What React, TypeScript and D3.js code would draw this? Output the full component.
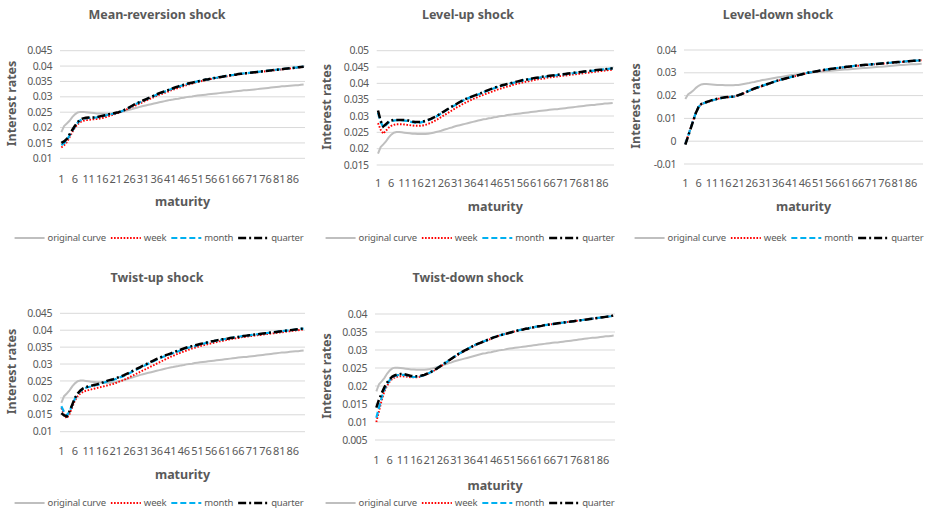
import React, { useEffect, useRef } from 'react';
import * as d3 from 'd3';

// maturities 1..90, labels every 5th
const maturities: number[] = d3.range(1, 91);

const seriesNames = ['original curve', 'week', 'month', 'quarter'];

const originalCurve = [
  0.0185, 0.0205, 0.0213, 0.0222, 0.0234, 0.0243, 0.0249, 0.0251, 0.0251, 0.0250,
  0.0249, 0.0248, 0.0247, 0.0246, 0.0246, 0.0245, 0.0245, 0.0245, 0.0245, 0.0246,
  0.0247, 0.0249, 0.0251, 0.0253, 0.0255, 0.0258, 0.0260, 0.0263, 0.0265, 0.0268,
  0.0270, 0.0272, 0.0274, 0.0276, 0.0278, 0.0280, 0.0282, 0.0284, 0.0286, 0.0288,
  0.0290, 0.0291, 0.0293, 0.0294, 0.0296, 0.0297, 0.0299, 0.0300, 0.0301, 0.0303,
  0.0304, 0.0305, 0.0306, 0.0307, 0.0308, 0.0309, 0.0310, 0.0311, 0.0312, 0.0313,
  0.0314, 0.0315, 0.0316, 0.0317, 0.0318, 0.0319, 0.0320, 0.0321, 0.0321, 0.0322,
  0.0323, 0.0324, 0.0325, 0.0326, 0.0327, 0.0328, 0.0329, 0.0330, 0.0331, 0.0332,
  0.0333, 0.0334, 0.0334, 0.0335, 0.0336, 0.0337, 0.0338, 0.0338, 0.0339, 0.0340,
];

// Mean-reversion shock
const mrWeek = [
  0.0135, 0.0142, 0.0152, 0.0168, 0.0185, 0.0200, 0.0211, 0.0218, 0.0222, 0.0224,
  0.0225, 0.0226, 0.0227, 0.0228, 0.0229, 0.0231, 0.0233, 0.0236, 0.0239, 0.0242,
  0.0245, 0.0248, 0.0251, 0.0255, 0.0259, 0.0263, 0.0267, 0.0271, 0.0275, 0.0279,
  0.0283, 0.0287, 0.0291, 0.0295, 0.0299, 0.0303, 0.0307, 0.0310, 0.0313, 0.0316,
  0.0320, 0.0323, 0.0326, 0.0329, 0.0332, 0.0335, 0.0338, 0.0341, 0.0343, 0.0346,
  0.0348, 0.0350, 0.0352, 0.0354, 0.0356, 0.0358, 0.0360, 0.0361, 0.0363, 0.0364,
  0.0366, 0.0367, 0.0369, 0.0370, 0.0371, 0.0373, 0.0374, 0.0375, 0.0376, 0.0377,
  0.0378, 0.0379, 0.0380, 0.0381, 0.0382, 0.0383, 0.0384, 0.0385, 0.0386, 0.0387,
  0.0388, 0.0389, 0.0390, 0.0391, 0.0392, 0.0393, 0.0394, 0.0395, 0.0396, 0.0398,
];
const mrMonth = [
  0.0143, 0.0149, 0.0158, 0.0174, 0.0189, 0.0204, 0.0216, 0.0224, 0.0228, 0.0230,
  0.0231, 0.0232, 0.0232, 0.0233, 0.0235, 0.0237, 0.0239, 0.0241, 0.0243, 0.0245,
  0.0247, 0.0249, 0.0252, 0.0256, 0.0260, 0.0265, 0.0270, 0.0275, 0.0279, 0.0283,
  0.0287, 0.0291, 0.0295, 0.0299, 0.0303, 0.0307, 0.0311, 0.0314, 0.0317, 0.0320,
  0.0324, 0.0327, 0.0330, 0.0333, 0.0336, 0.0339, 0.0341, 0.0344, 0.0346, 0.0348,
  0.0350, 0.0352, 0.0354, 0.0356, 0.0357, 0.0359, 0.0361, 0.0362, 0.0364, 0.0365,
  0.0367, 0.0368, 0.0370, 0.0371, 0.0372, 0.0374, 0.0375, 0.0376, 0.0377, 0.0378,
  0.0379, 0.0380, 0.0381, 0.0382, 0.0383, 0.0384, 0.0385, 0.0386, 0.0387, 0.0388,
  0.0389, 0.0390, 0.0391, 0.0392, 0.0393, 0.0394, 0.0395, 0.0396, 0.0397, 0.0398,
];
const mrQuarter = [
  0.0150, 0.0155, 0.0163, 0.0178, 0.0192, 0.0206, 0.0218, 0.0226, 0.0230, 0.0232,
  0.0233, 0.0233, 0.0233, 0.0234, 0.0236, 0.0238, 0.0240, 0.0242, 0.0244, 0.0246,
  0.0248, 0.0250, 0.0253, 0.0257, 0.0261, 0.0266, 0.0271, 0.0276, 0.0280, 0.0284,
  0.0288, 0.0292, 0.0296, 0.0300, 0.0304, 0.0308, 0.0312, 0.0315, 0.0318, 0.0321,
  0.0325, 0.0328, 0.0331, 0.0334, 0.0337, 0.0339, 0.0342, 0.0344, 0.0346, 0.0348,
  0.0350, 0.0352, 0.0354, 0.0356, 0.0357, 0.0359, 0.0361, 0.0362, 0.0364, 0.0365,
  0.0367, 0.0368, 0.0370, 0.0371, 0.0372, 0.0374, 0.0375, 0.0376, 0.0377, 0.0378,
  0.0379, 0.0380, 0.0381, 0.0382, 0.0383, 0.0384, 0.0385, 0.0386, 0.0387, 0.0388,
  0.0389, 0.0390, 0.0391, 0.0392, 0.0393, 0.0394, 0.0395, 0.0396, 0.0397, 0.0398,
];

// Level-up shock
const luWeek = [
  0.0278, 0.0258, 0.0246, 0.0255, 0.0264, 0.0270, 0.0273, 0.0275, 0.0275, 0.0275,
  0.0274, 0.0273, 0.0272, 0.0271, 0.0270, 0.0270, 0.0270, 0.0271, 0.0273, 0.0276,
  0.0279, 0.0283, 0.0287, 0.0292, 0.0297, 0.0302, 0.0307, 0.0312, 0.0317, 0.0322,
  0.0327, 0.0331, 0.0336, 0.0340, 0.0344, 0.0348, 0.0352, 0.0355, 0.0359, 0.0362,
  0.0365, 0.0368, 0.0371, 0.0374, 0.0377, 0.0380, 0.0383, 0.0385, 0.0388, 0.0390,
  0.0392, 0.0395, 0.0397, 0.0399, 0.0401, 0.0403, 0.0405, 0.0406, 0.0408, 0.0410,
  0.0411, 0.0413, 0.0414, 0.0415, 0.0417, 0.0418, 0.0419, 0.0420, 0.0421, 0.0422,
  0.0423, 0.0424, 0.0425, 0.0426, 0.0427, 0.0428, 0.0429, 0.0430, 0.0431, 0.0432,
  0.0433, 0.0434, 0.0435, 0.0436, 0.0437, 0.0438, 0.0439, 0.0440, 0.0441, 0.0442,
];
const luMonth = [
  0.0310, 0.0282, 0.0265, 0.0272, 0.0280, 0.0284, 0.0286, 0.0287, 0.0287, 0.0287,
  0.0286, 0.0285, 0.0283, 0.0281, 0.0280, 0.0280, 0.0280, 0.0282, 0.0284, 0.0287,
  0.0290, 0.0294, 0.0298, 0.0303, 0.0308, 0.0313, 0.0318, 0.0323, 0.0328, 0.0332,
  0.0337, 0.0342, 0.0346, 0.0350, 0.0354, 0.0357, 0.0360, 0.0363, 0.0366, 0.0369,
  0.0373, 0.0376, 0.0379, 0.0382, 0.0385, 0.0388, 0.0390, 0.0393, 0.0395, 0.0397,
  0.0399, 0.0401, 0.0403, 0.0405, 0.0407, 0.0409, 0.0410, 0.0412, 0.0413, 0.0415,
  0.0416, 0.0417, 0.0419, 0.0420, 0.0421, 0.0422, 0.0423, 0.0424, 0.0425, 0.0426,
  0.0427, 0.0428, 0.0429, 0.0430, 0.0431, 0.0432, 0.0433, 0.0434, 0.0435, 0.0436,
  0.0437, 0.0438, 0.0439, 0.0440, 0.0441, 0.0442, 0.0443, 0.0444, 0.0445, 0.0446,
];
const luQuarter = [
  0.0317, 0.0285, 0.0268, 0.0275, 0.0282, 0.0286, 0.0288, 0.0288, 0.0288, 0.0288,
  0.0288, 0.0287, 0.0285, 0.0283, 0.0282, 0.0282, 0.0282, 0.0283, 0.0285, 0.0288,
  0.0291, 0.0295, 0.0299, 0.0304, 0.0309, 0.0314, 0.0319, 0.0324, 0.0329, 0.0334,
  0.0338, 0.0343, 0.0347, 0.0351, 0.0355, 0.0358, 0.0361, 0.0364, 0.0367, 0.0370,
  0.0374, 0.0377, 0.0380, 0.0383, 0.0386, 0.0389, 0.0391, 0.0394, 0.0396, 0.0398,
  0.0400, 0.0402, 0.0404, 0.0406, 0.0408, 0.0410, 0.0411, 0.0413, 0.0414, 0.0416,
  0.0417, 0.0418, 0.0420, 0.0421, 0.0422, 0.0423, 0.0424, 0.0425, 0.0426, 0.0427,
  0.0428, 0.0429, 0.0430, 0.0431, 0.0432, 0.0433, 0.0434, 0.0435, 0.0436, 0.0437,
  0.0438, 0.0439, 0.0440, 0.0441, 0.0442, 0.0442, 0.0443, 0.0444, 0.0445, 0.0446,
];

// Level-down shock
const ldWeek = [
  -0.0012, 0.0023, 0.0058, 0.0093, 0.0127, 0.0151, 0.0162, 0.0167, 0.0171, 0.0174,
  0.0178, 0.0182, 0.0185, 0.0188, 0.0190, 0.0192, 0.0193, 0.0194, 0.0195, 0.0197,
  0.0201, 0.0205, 0.0210, 0.0215, 0.0220, 0.0225, 0.0230, 0.0234, 0.0238, 0.0242,
  0.0246, 0.0250, 0.0254, 0.0258, 0.0262, 0.0266, 0.0269, 0.0272, 0.0275, 0.0278,
  0.0281, 0.0284, 0.0287, 0.0290, 0.0293, 0.0296, 0.0299, 0.0301, 0.0303, 0.0305,
  0.0307, 0.0309, 0.0311, 0.0313, 0.0315, 0.0317, 0.0318, 0.0320, 0.0321, 0.0323,
  0.0324, 0.0326, 0.0327, 0.0328, 0.0330, 0.0331, 0.0332, 0.0333, 0.0334, 0.0335,
  0.0336, 0.0337, 0.0338, 0.0339, 0.0340, 0.0341, 0.0342, 0.0343, 0.0344, 0.0345,
  0.0346, 0.0347, 0.0348, 0.0349, 0.0350, 0.0351, 0.0352, 0.0353, 0.0354, 0.0355,
];
const ldMonth = [
  -0.0013, 0.0022, 0.0057, 0.0092, 0.0126, 0.0150, 0.0162, 0.0167, 0.0171, 0.0175,
  0.0179, 0.0182, 0.0185, 0.0188, 0.0190, 0.0192, 0.0193, 0.0194, 0.0195, 0.0197,
  0.0201, 0.0206, 0.0211, 0.0216, 0.0221, 0.0226, 0.0231, 0.0235, 0.0239, 0.0243,
  0.0247, 0.0251, 0.0255, 0.0259, 0.0263, 0.0267, 0.0270, 0.0273, 0.0276, 0.0279,
  0.0282, 0.0285, 0.0288, 0.0291, 0.0294, 0.0297, 0.0300, 0.0302, 0.0304, 0.0306,
  0.0308, 0.0310, 0.0312, 0.0314, 0.0316, 0.0318, 0.0319, 0.0321, 0.0322, 0.0324,
  0.0325, 0.0327, 0.0328, 0.0329, 0.0331, 0.0332, 0.0333, 0.0334, 0.0335, 0.0336,
  0.0337, 0.0338, 0.0339, 0.0340, 0.0341, 0.0342, 0.0343, 0.0344, 0.0345, 0.0346,
  0.0347, 0.0348, 0.0349, 0.0350, 0.0351, 0.0352, 0.0353, 0.0353, 0.0354, 0.0355,
];
const ldQuarter = [
  -0.0015, 0.0020, 0.0055, 0.0090, 0.0125, 0.0150, 0.0163, 0.0168, 0.0172, 0.0176,
  0.0180, 0.0183, 0.0186, 0.0189, 0.0191, 0.0193, 0.0194, 0.0195, 0.0196, 0.0198,
  0.0202, 0.0206, 0.0211, 0.0216, 0.0221, 0.0226, 0.0231, 0.0235, 0.0239, 0.0243,
  0.0247, 0.0251, 0.0255, 0.0259, 0.0263, 0.0267, 0.0270, 0.0273, 0.0276, 0.0279,
  0.0282, 0.0285, 0.0288, 0.0291, 0.0294, 0.0297, 0.0300, 0.0302, 0.0304, 0.0306,
  0.0308, 0.0310, 0.0312, 0.0314, 0.0316, 0.0318, 0.0319, 0.0321, 0.0322, 0.0324,
  0.0325, 0.0327, 0.0328, 0.0329, 0.0331, 0.0332, 0.0333, 0.0334, 0.0335, 0.0336,
  0.0337, 0.0338, 0.0339, 0.0340, 0.0341, 0.0342, 0.0343, 0.0344, 0.0345, 0.0346,
  0.0347, 0.0348, 0.0349, 0.0350, 0.0351, 0.0352, 0.0353, 0.0353, 0.0354, 0.0355,
];

// Twist-up shock
const tuWeek = [
  0.0170, 0.0150, 0.0140, 0.0152, 0.0172, 0.0192, 0.0205, 0.0213, 0.0218, 0.0221,
  0.0223, 0.0225, 0.0227, 0.0229, 0.0231, 0.0233, 0.0235, 0.0237, 0.0239, 0.0241,
  0.0244, 0.0247, 0.0250, 0.0253, 0.0257, 0.0261, 0.0265, 0.0269, 0.0273, 0.0277,
  0.0281, 0.0285, 0.0289, 0.0293, 0.0297, 0.0301, 0.0305, 0.0309, 0.0313, 0.0317,
  0.0321, 0.0324, 0.0328, 0.0331, 0.0334, 0.0337, 0.0340, 0.0343, 0.0346, 0.0348,
  0.0351, 0.0353, 0.0355, 0.0357, 0.0359, 0.0361, 0.0363, 0.0365, 0.0367, 0.0368,
  0.0370, 0.0372, 0.0373, 0.0375, 0.0376, 0.0377, 0.0379, 0.0380, 0.0381, 0.0382,
  0.0383, 0.0384, 0.0385, 0.0386, 0.0387, 0.0388, 0.0389, 0.0390, 0.0391, 0.0392,
  0.0393, 0.0394, 0.0395, 0.0396, 0.0397, 0.0398, 0.0399, 0.0400, 0.0401, 0.0402,
];
const tuMonth = [
  0.0175, 0.0158, 0.0147, 0.0160, 0.0178, 0.0198, 0.0211, 0.0220, 0.0226, 0.0230,
  0.0232, 0.0234, 0.0236, 0.0238, 0.0240, 0.0243, 0.0246, 0.0249, 0.0251, 0.0253,
  0.0256, 0.0259, 0.0262, 0.0265, 0.0269, 0.0273, 0.0277, 0.0281, 0.0285, 0.0289,
  0.0293, 0.0297, 0.0301, 0.0305, 0.0309, 0.0313, 0.0316, 0.0320, 0.0323, 0.0326,
  0.0329, 0.0332, 0.0335, 0.0338, 0.0341, 0.0344, 0.0347, 0.0349, 0.0351, 0.0353,
  0.0356, 0.0358, 0.0360, 0.0362, 0.0364, 0.0366, 0.0368, 0.0369, 0.0371, 0.0372,
  0.0374, 0.0375, 0.0377, 0.0378, 0.0379, 0.0380, 0.0382, 0.0383, 0.0384, 0.0385,
  0.0386, 0.0387, 0.0388, 0.0389, 0.0390, 0.0391, 0.0392, 0.0393, 0.0394, 0.0395,
  0.0396, 0.0397, 0.0398, 0.0399, 0.0400, 0.0401, 0.0402, 0.0403, 0.0404, 0.0405,
];
const tuQuarter = [
  0.0155, 0.0148, 0.0145, 0.0160, 0.0180, 0.0200, 0.0213, 0.0222, 0.0228, 0.0232,
  0.0234, 0.0236, 0.0238, 0.0240, 0.0242, 0.0245, 0.0248, 0.0251, 0.0253, 0.0255,
  0.0258, 0.0261, 0.0264, 0.0267, 0.0271, 0.0275, 0.0279, 0.0283, 0.0287, 0.0291,
  0.0295, 0.0299, 0.0303, 0.0307, 0.0311, 0.0315, 0.0318, 0.0322, 0.0325, 0.0328,
  0.0331, 0.0334, 0.0337, 0.0340, 0.0343, 0.0346, 0.0349, 0.0351, 0.0353, 0.0355,
  0.0357, 0.0359, 0.0361, 0.0363, 0.0365, 0.0367, 0.0368, 0.0370, 0.0371, 0.0373,
  0.0374, 0.0375, 0.0377, 0.0378, 0.0379, 0.0380, 0.0382, 0.0383, 0.0384, 0.0385,
  0.0386, 0.0387, 0.0388, 0.0389, 0.0390, 0.0391, 0.0392, 0.0393, 0.0394, 0.0395,
  0.0396, 0.0397, 0.0398, 0.0399, 0.0400, 0.0401, 0.0402, 0.0403, 0.0404, 0.0405,
];

// Twist-down shock
const tdWeek = [
  0.0100, 0.0130, 0.0160, 0.0185, 0.0200, 0.0212, 0.0220, 0.0224, 0.0226, 0.0227,
  0.0227, 0.0226, 0.0225, 0.0224, 0.0224, 0.0224, 0.0225, 0.0227, 0.0230, 0.0233,
  0.0236, 0.0240, 0.0244, 0.0249, 0.0254, 0.0259, 0.0264, 0.0269, 0.0274, 0.0279,
  0.0284, 0.0289, 0.0293, 0.0297, 0.0301, 0.0305, 0.0309, 0.0313, 0.0316, 0.0319,
  0.0322, 0.0325, 0.0328, 0.0331, 0.0334, 0.0337, 0.0340, 0.0342, 0.0344, 0.0346,
  0.0348, 0.0350, 0.0352, 0.0354, 0.0356, 0.0357, 0.0359, 0.0360, 0.0362, 0.0363,
  0.0365, 0.0366, 0.0367, 0.0369, 0.0370, 0.0371, 0.0372, 0.0373, 0.0374, 0.0375,
  0.0376, 0.0377, 0.0378, 0.0379, 0.0380, 0.0381, 0.0382, 0.0383, 0.0384, 0.0385,
  0.0386, 0.0387, 0.0388, 0.0389, 0.0390, 0.0391, 0.0392, 0.0393, 0.0394, 0.0396,
];
const tdMonth = [
  0.0112, 0.0140, 0.0168, 0.0190, 0.0205, 0.0216, 0.0223, 0.0228, 0.0230, 0.0231,
  0.0231, 0.0230, 0.0228, 0.0226, 0.0225, 0.0225, 0.0226, 0.0228, 0.0230, 0.0233,
  0.0237, 0.0241, 0.0245, 0.0250, 0.0255, 0.0260, 0.0265, 0.0270, 0.0275, 0.0280,
  0.0285, 0.0290, 0.0294, 0.0298, 0.0302, 0.0306, 0.0310, 0.0314, 0.0317, 0.0320,
  0.0323, 0.0326, 0.0329, 0.0332, 0.0335, 0.0337, 0.0340, 0.0342, 0.0344, 0.0346,
  0.0348, 0.0350, 0.0352, 0.0354, 0.0356, 0.0357, 0.0359, 0.0360, 0.0362, 0.0363,
  0.0365, 0.0366, 0.0367, 0.0369, 0.0370, 0.0371, 0.0372, 0.0373, 0.0374, 0.0375,
  0.0376, 0.0377, 0.0378, 0.0379, 0.0380, 0.0381, 0.0382, 0.0383, 0.0384, 0.0385,
  0.0386, 0.0387, 0.0388, 0.0389, 0.0390, 0.0391, 0.0392, 0.0393, 0.0394, 0.0396,
];
const tdQuarter = [
  0.0140, 0.0162, 0.0180, 0.0196, 0.0209, 0.0219, 0.0226, 0.0230, 0.0232, 0.0233,
  0.0233, 0.0232, 0.0230, 0.0228, 0.0227, 0.0227, 0.0228, 0.0229, 0.0231, 0.0234,
  0.0237, 0.0241, 0.0245, 0.0250, 0.0255, 0.0260, 0.0265, 0.0270, 0.0275, 0.0280,
  0.0285, 0.0290, 0.0294, 0.0298, 0.0302, 0.0306, 0.0310, 0.0314, 0.0317, 0.0320,
  0.0323, 0.0326, 0.0329, 0.0332, 0.0335, 0.0337, 0.0340, 0.0342, 0.0344, 0.0346,
  0.0348, 0.0350, 0.0352, 0.0354, 0.0356, 0.0357, 0.0359, 0.0360, 0.0362, 0.0363,
  0.0365, 0.0366, 0.0367, 0.0369, 0.0370, 0.0371, 0.0372, 0.0373, 0.0374, 0.0375,
  0.0376, 0.0377, 0.0378, 0.0379, 0.0380, 0.0381, 0.0382, 0.0383, 0.0384, 0.0385,
  0.0386, 0.0387, 0.0388, 0.0389, 0.0390, 0.0391, 0.0392, 0.0393, 0.0394, 0.0397,
];

const mrTicks = [0.01, 0.015, 0.02, 0.025, 0.03, 0.035, 0.04, 0.045];
const luTicks = [0.015, 0.02, 0.025, 0.03, 0.035, 0.04, 0.045, 0.05];
const ldTicks = [-0.01, 0, 0.01, 0.02, 0.03, 0.04];
const tuTicks = [0.01, 0.015, 0.02, 0.025, 0.03, 0.035, 0.04, 0.045];
const tdTicks = [0.005, 0.01, 0.015, 0.02, 0.025, 0.03, 0.035, 0.04];

const panels = [
  { title: 'Mean-reversion shock', week: mrWeek, month: mrMonth, quarter: mrQuarter, ticks: mrTicks,
    x0: 60, x1: 305, yTop: 50.7, yBot: 158.3, titleX: 157, titleY: 15, yLabX: 12, xLabY: 179, matY: 202, legY: 238, legCx: 159 },
  { title: 'Level-up shock', week: luWeek, month: luMonth, quarter: luQuarter, ticks: luTicks,
    x0: 376.7, x1: 614, yTop: 50.7, yBot: 165, titleX: 468, titleY: 15, yLabX: 327, xLabY: 183, matY: 207, legY: 238, legCx: 470 },
  { title: 'Level-down shock', week: ldWeek, month: ldMonth, quarter: ldQuarter, ticks: ldTicks,
    x0: 684, x1: 923, yTop: 50, yBot: 164, titleX: 778, titleY: 15, yLabX: 636, xLabY: 183, matY: 207, legY: 238, legCx: 779 },
  { title: 'Twist-up shock', week: tuWeek, month: tuMonth, quarter: tuQuarter, ticks: tuTicks,
    x0: 60, x1: 305, yTop: 313.3, yBot: 431.7, titleX: 157, titleY: 278, yLabX: 12, xLabY: 451, matY: 475, legY: 503, legCx: 159 },
  { title: 'Twist-down shock', week: tdWeek, month: tdMonth, quarter: tdQuarter, ticks: tdTicks,
    x0: 375, x1: 615, yTop: 314, yBot: 440, titleX: 468, titleY: 278, yLabX: 327, xLabY: 460, matY: 486, legY: 503, legCx: 470 },
];

const styles = [
  { color: '#bfbfbf', width: 2, dash: null },
  { color: '#ff0000', width: 1.9, dash: '1.6,1.6' },
  { color: '#00b0f0', width: 2.2, dash: '6,3' },
  { color: '#000000', width: 2.5, dash: '8,3,2,3' },
];

const FONT = '"Noto Sans", sans-serif';
const GREY = '#595959';

const App: React.FC = () => {
  const svgRef = useRef<SVGSVGElement>(null);

  useEffect(() => {
    const svg = d3.select(svgRef.current);
    svg.selectAll('*').remove();

    panels.forEach(p => {
      const g = svg.append('g');
      const x = d3.scalePoint<number>().domain(maturities).range([p.x0, p.x1]).padding(0.5);
      const y = d3.scaleLinear()
        .domain([p.ticks[0], p.ticks[p.ticks.length - 1]])
        .range([p.yBot, p.yTop]);

      // gridlines
      g.selectAll('.grid')
        .data(p.ticks)
        .enter().append('line')
        .attr('x1', p.x0).attr('x2', p.x1)
        .attr('y1', d => y(d)).attr('y2', d => y(d))
        .attr('stroke', '#d9d9d9').attr('stroke-width', 1);

      g.selectAll('.ytick')
        .data(p.ticks)
        .enter().append('text')
        .attr('x', p.x0 - 8).attr('y', d => y(d)).attr('dy', '0.35em')
        .attr('text-anchor', 'end')
        .attr('font-family', FONT).attr('font-size', 10.5).attr('letter-spacing', -0.4)
        .attr('fill', GREY)
        .text(d => String(+d.toFixed(3)));

      g.selectAll('.xtick')
        .data(maturities.filter(m => (m - 1) % 5 === 0))
        .enter().append('text')
        .attr('x', d => x(d)!).attr('y', p.xLabY).attr('dy', '0.35em')
        .attr('text-anchor', 'middle')
        .attr('font-family', FONT).attr('font-size', 11).attr('letter-spacing', -0.1)
        .attr('fill', GREY)
        .text(d => String(d));

      // titles
      g.append('text')
        .attr('x', p.titleX).attr('y', p.titleY).attr('dy', '0.35em')
        .attr('text-anchor', 'middle')
        .attr('font-family', FONT).attr('font-size', 12.5).attr('font-weight', 'bold')
        .attr('fill', GREY)
        .text(p.title);

      g.append('text')
        .attr('x', (p.x0 + p.x1) / 2).attr('y', p.matY).attr('dy', '0.35em')
        .attr('text-anchor', 'middle')
        .attr('font-family', FONT).attr('font-size', 12.5).attr('font-weight', 'bold')
        .attr('fill', GREY)
        .text('maturity');

      const midY = (p.yTop + p.yBot) / 2 - 1;
      g.append('text')
        .attr('transform', `translate(${p.yLabX},${midY}) rotate(-90)`)
        .attr('dy', '0.35em')
        .attr('text-anchor', 'middle')
        .attr('font-family', FONT).attr('font-size', 12.5).attr('font-weight', 'bold')
        .attr('fill', GREY)
        .text('Interest rates');

      // series
      const line = d3.line<number>()
        .x((_d, i) => x(maturities[i])!)
        .y(d => y(d));
      const series = [originalCurve, p.week, p.month, p.quarter];
      series.forEach((s, i) => {
        const path = g.append('path')
          .attr('d', line(s))
          .attr('fill', 'none')
          .attr('stroke', styles[i].color)
          .attr('stroke-width', styles[i].width);
        if (styles[i].dash) path.attr('stroke-dasharray', styles[i].dash);
      });

      // legend
      const leg = g.append('g');
      const lineLen = 30;
      let cx = 0;
      seriesNames.forEach((name, i) => {
        const ln = leg.append('line')
          .attr('x1', cx).attr('x2', cx + lineLen)
          .attr('y1', p.legY).attr('y2', p.legY)
          .attr('stroke', styles[i].color)
          .attr('stroke-width', styles[i].width);
        if (styles[i].dash) ln.attr('stroke-dasharray', styles[i].dash);
        cx += lineLen + 3;
        const t = leg.append('text')
          .attr('x', cx).attr('y', p.legY).attr('dy', '0.35em')
          .attr('font-family', FONT).attr('font-size', 9.5).attr('letter-spacing', -0.2)
          .attr('fill', GREY)
          .text(name);
        const w = (t.node() as SVGTextElement).getComputedTextLength();
        cx += w + 5;
      });
      const total = cx - 5;
      leg.attr('transform', `translate(${p.legCx - total / 2},0)`);
    });
  }, []);

  return (
    <svg
      ref={svgRef}
      width={926}
      height={512}
      style={{ position: 'absolute', left: 0, top: 0, background: '#ffffff' }}
    />
  );
};

export default App;
